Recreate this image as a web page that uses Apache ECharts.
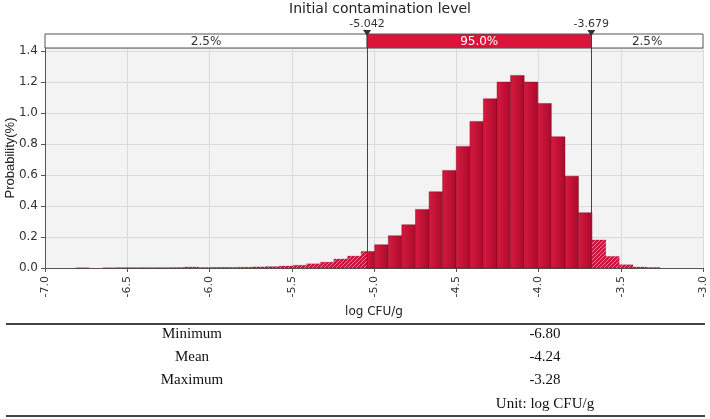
<!DOCTYPE html>
<html>
<head>
<meta charset="utf-8">
<script src="https://cdn.jsdelivr.net/npm/echarts@6/dist/echarts.min.js"></script>
<style>
  html, body { margin: 0; padding: 0; background: #ffffff; }
  #chart { width: 710px; height: 419px; }
</style>
</head>
<body>
<div id="chart"></div>
<script>
// ---------------- data ----------------
const chartTitle = 'Initial contamination level';
const xAxisName = 'log CFU/g';
const yAxisName = 'Probability(%)';

// histogram bin edges (log CFU/g)
const binEdges = [
  -6.813, -6.731, -6.648, -6.565, -6.483, -6.400, -6.318, -6.235, -6.152, -6.070,
  -5.987, -5.905, -5.822, -5.739, -5.657, -5.574, -5.491, -5.409, -5.326, -5.244,
  -5.161, -5.078, -4.996, -4.913, -4.831, -4.748, -4.665, -4.583, -4.500, -4.417,
  -4.335, -4.252, -4.170, -4.087, -4.004, -3.922, -3.839, -3.757, -3.674, -3.591,
  -3.509, -3.426, -3.344, -3.261
];
// probability (%) of each bin
const binProbs = [
  0.001, 0.000, 0.001, 0.002, 0.002, 0.002, 0.002, 0.003, 0.006, 0.003,
  0.004, 0.004, 0.005, 0.007, 0.009, 0.013, 0.018, 0.027, 0.038, 0.058,
  0.077, 0.107, 0.150, 0.208, 0.279, 0.378, 0.492, 0.630, 0.785, 0.946,
  1.092, 1.200, 1.243, 1.200, 1.062, 0.847, 0.592, 0.357, 0.181, 0.075,
  0.021, 0.006, 0.003
];

const cutLow = -5.042;
const cutHigh = -3.679;
const cutLabels = ['-5.042', '-3.679'];
const bandLabels = ['2.5%', '95.0%', '2.5%'];

const xTickLabels = ['-7.0', '-6.5', '-6.0', '-5.5', '-5.0', '-4.5', '-4.0', '-3.5', '-3.0'];
const yTickLabels = ['0.0', '0.2', '0.4', '0.6', '0.8', '1.0', '1.2', '1.4'];

const statNames = ['Minimum', 'Mean', 'Maximum'];
const statValues = ['-6.80', '-4.24', '-3.28'];
const unitText = 'Unit: log CFU/g';

// ---------------- styles ----------------
const uiFont = '"DejaVu Sans", Verdana, sans-serif';
const narrowFont = '"Liberation Sans Narrow", "Liberation Sans", Arial, sans-serif';
const serifFont = '"Liberation Serif", "Times New Roman", serif';

const hatchCanvas = document.createElement('canvas');
hatchCanvas.width = 4; hatchCanvas.height = 4;
(function () {
  const c = hatchCanvas.getContext('2d');
  c.fillStyle = '#c8163f';
  c.fillRect(0, 0, 4, 4);
  c.strokeStyle = 'rgba(255,215,225,0.55)';
  c.lineWidth = 1;
  c.beginPath();
  c.moveTo(-1, 5); c.lineTo(5, -1);
  c.moveTo(-1, 1); c.lineTo(1, -1);
  c.moveTo(3, 5); c.lineTo(5, 3);
  c.stroke();
})();
const hatchFill = { image: hatchCanvas, repeat: 'repeat' };
const solidFill = new echarts.graphic.LinearGradient(0, 0, 1, 0, [
  { offset: 0, color: '#d8193f' },
  { offset: 1, color: '#a90b2d' }
]);

const histData = binProbs.map((p, i) => [binEdges[i], binEdges[i + 1], p]);

const chart = echarts.init(document.getElementById('chart'), null, { renderer: 'canvas' });

function seg(api, a, b, h, fill) {
  const p0 = api.coord([a, 0]);
  const p1 = api.coord([b, h]);
  return {
    type: 'rect',
    shape: { x: p0[0], y: p1[1], width: p1[0] - p0[0], height: p0[1] - p1[1] },
    style: { fill: fill, stroke: 'rgba(110,0,20,0.35)', lineWidth: 0.6 }
  };
}

const option = {
  animation: false,
  backgroundColor: '#ffffff',
  title: {
    text: chartTitle,
    left: 375, top: -3, textAlign: 'center',
    textStyle: { fontFamily: uiFont, fontSize: 14, fontWeight: 'normal', color: '#222' }
  },
  grid: {
    left: 45, right: 7, top: 48, bottom: 151,
    containLabel: false, outerBoundsMode: 'none',
    show: true, backgroundColor: '#f3f3f3', borderWidth: 0
  },
  xAxis: {
    type: 'value', min: -7, max: -3, interval: 0.5,
    name: xAxisName, nameLocation: 'middle', nameGap: 38,
    nameTextStyle: { fontFamily: uiFont, fontSize: 12, color: '#222' },
    axisLine: { show: true, onZero: false, lineStyle: { color: '#555', width: 1 } },
    axisTick: { show: true, length: 4, lineStyle: { color: '#555' } },
    axisLabel: {
      rotate: 90, margin: 8, fontFamily: uiFont, fontSize: 11, color: '#333',
      formatter: (v, i) => xTickLabels[i] !== undefined ? xTickLabels[i] : ''
    },
    splitLine: { show: true, lineStyle: { color: '#dadada', width: 1 } }
  },
  yAxis: {
    type: 'value', min: 0, max: 1.42, interval: 0.2,
    axisLine: { show: true, lineStyle: { color: '#555', width: 1 } },
    axisTick: { show: true, length: 4, lineStyle: { color: '#555' } },
    axisLabel: {
      margin: 7, fontFamily: uiFont, fontSize: 12, color: '#333',
      showMaxLabel: false,
      formatter: (v, i) => yTickLabels[i] !== undefined ? yTickLabels[i] : ''
    },
    splitLine: { show: true, lineStyle: { color: '#dadada', width: 1 } }
  },
  series: [{
    type: 'custom',
    data: histData,
    clip: false,
    renderItem: function (params, api) {
      const lo = api.value(0), hi = api.value(1), h = api.value(2);
      const children = [];
      if (h <= 0) return { type: 'group', children: [] };
      if (lo < cutLow) children.push(seg(api, lo, Math.min(hi, cutLow), h, hatchFill));
      const sLo = Math.max(lo, cutLow), sHi = Math.min(hi, cutHigh);
      if (sHi > sLo) children.push(seg(api, sLo, sHi, h, solidFill));
      if (hi > cutHigh) children.push(seg(api, Math.max(lo, cutHigh), hi, h, hatchFill));
      return { type: 'group', children: children };
    },
    encode: { x: [0, 1], y: 2 }
  }]
};
chart.setOption(option);

// ---------------- annotations positioned through the axes ----------------
const xPx = v => chart.convertToPixel({ xAxisIndex: 0 }, v);
const yPx = v => chart.convertToPixel({ yAxisIndex: 0 }, v);
const xL = xPx(-7), xR = xPx(-3);
const xC1 = xPx(cutLow), xC2 = xPx(cutHigh);
const yTop = yPx(1.42), yZero = yPx(0);
const barH = 14;
const barY = yTop - barH;

const g = [];
// y axis name
g.push({ type: 'text', x: 10, y: (yTop + yZero) / 2, rotation: Math.PI / 2,
  style: { text: yAxisName, fill: '#222', font: '13px ' + narrowFont, align: 'center', verticalAlign: 'middle' } });
// band bar
g.push({ type: 'rect', shape: { x: xL, y: barY, width: xC1 - xL, height: barH }, style: { fill: '#ffffff', stroke: '#555', lineWidth: 1 } });
g.push({ type: 'rect', shape: { x: xC1, y: barY, width: xC2 - xC1, height: barH }, style: { fill: '#dc143c', stroke: '#555', lineWidth: 1 } });
g.push({ type: 'rect', shape: { x: xC2, y: barY, width: xR - xC2, height: barH }, style: { fill: '#ffffff', stroke: '#555', lineWidth: 1 } });
const bandCenters = [(xL + xC1) / 2, (xC1 + xC2) / 2, (xC2 + xR) / 2];
bandLabels.forEach((t, i) => {
  g.push({ type: 'text', x: bandCenters[i], y: barY + barH / 2 + 0.5,
    style: { text: t, fill: i === 1 ? '#ffffff' : '#333', font: '12px ' + uiFont, align: 'center', verticalAlign: 'middle' } });
});
// cut lines, triangles and labels
[xC1, xC2].forEach((xc, i) => {
  g.push({ type: 'line', shape: { x1: Math.round(xc) + 0.5, y1: barY, x2: Math.round(xc) + 0.5, y2: yZero }, style: { stroke: '#444', lineWidth: 1 }, z: 10 });
  g.push({ type: 'polygon', shape: { points: [[xc - 4, barY - 4], [xc + 4, barY - 4], [xc, barY + 2]] }, style: { fill: '#333' }, z: 11 });
  g.push({ type: 'text', x: xc, y: barY - 10,
    style: { text: cutLabels[i], fill: '#333', font: '11px ' + uiFont, align: 'center', verticalAlign: 'middle' } });
});

// summary table
const tableLeft = 6, tableRight = 705;
const colL = 192, colR = 545;
const rowY = [334, 357, 380];
g.push({ type: 'rect', shape: { x: tableLeft, y: 323, width: tableRight - tableLeft, height: 2 }, style: { fill: '#444' } });
g.push({ type: 'rect', shape: { x: tableLeft, y: 415, width: tableRight - tableLeft, height: 2 }, style: { fill: '#444' } });
statNames.forEach((n, i) => {
  g.push({ type: 'text', x: colL, y: rowY[i], style: { text: n, fill: '#111', font: '15px ' + serifFont, align: 'center', verticalAlign: 'middle' } });
  g.push({ type: 'text', x: colR, y: rowY[i], style: { text: statValues[i], fill: '#111', font: '15px ' + serifFont, align: 'center', verticalAlign: 'middle' } });
});
g.push({ type: 'text', x: colR, y: 404, style: { text: unitText, fill: '#111', font: '15px ' + serifFont, align: 'center', verticalAlign: 'middle' } });

chart.setOption({ graphic: { elements: g } });
</script>
</body>
</html>
